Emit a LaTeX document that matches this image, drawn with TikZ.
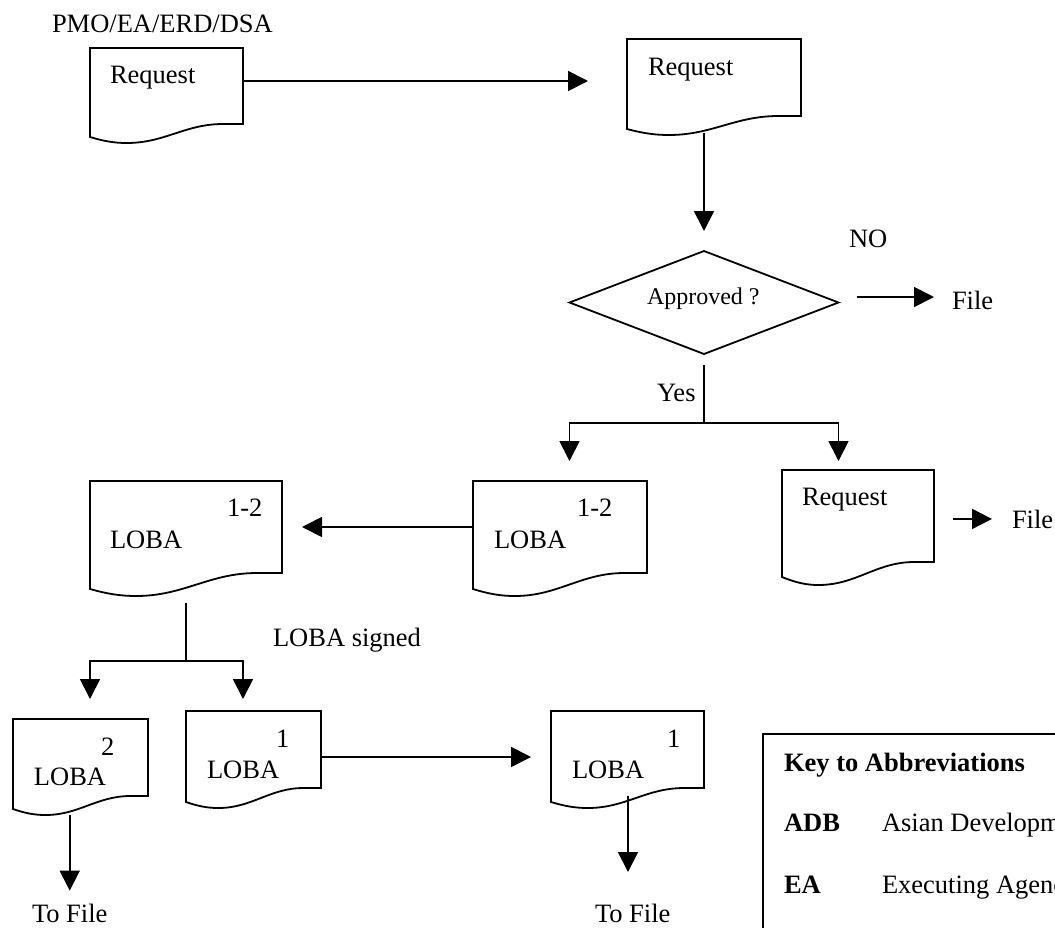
\documentclass[tikz,border=0pt]{standalone}
\usepackage{fontspec}
\setmainfont{Liberation Serif}
\usetikzlibrary{arrows.meta,shapes.geometric}

\newcommand\fs{\fontsize{26.5}{30}\selectfont}

\tikzset{
  every node/.style={inner sep=0pt, outer sep=0pt},
  ln/.style={line width=1.8pt},
  lbl/.style={anchor=base west, font=\fs},
  arr/.style={-{Triangle[length=20pt,width=20pt]}},
}

% Document symbol: #1 name, #2 left, #3 top, #4 right,
% #5 bottom of right edge, #6 bottom of left edge, #7 lowest point of the wave
\newcommand\docshape[7]{%
  \pgfmathsetmacro\dcw{#4-#2}%
  \pgfmathsetmacro\dch{#5-#3}%
  \pgfmathsetmacro\dcxc{(#2+#4)/2}%
  \pgfmathsetmacro\dcyc{(#3+#5)/2}%
  \pgfmathsetmacro\dcxm{#2+0.24*\dcw}%
  \pgfmathsetmacro\dcxe{#2+0.87*\dcw}%
  \pgfmathsetmacro\dcca{#2+0.09*\dcw}%
  \pgfmathsetmacro\dccb{\dcxm-0.08*\dcw}%
  \pgfmathsetmacro\dccc{\dcxm+0.25*\dcw}%
  \pgfmathsetmacro\dccd{\dcxe-0.25*\dcw}%
  \pgfmathsetmacro\dcya{#6+0.7*(#7-#6)}%
  \draw[ln] (#2,#6) .. controls (\dcca,\dcya) and (\dccb,#7) .. (\dcxm,#7)
            .. controls (\dccc,#7) and (\dccd,#5) .. (\dcxe,#5)
            -- (#4,#5) -- (#4,#3) -- (#2,#3) -- cycle;
  \node[minimum width=\dcw pt, minimum height=\dch pt] (#1) at (\dcxc,\dcyc) {};%
}

\begin{document}
\begin{tikzpicture}[x=1pt,y=-1pt]
\useasboundingbox (0,0) rectangle (1055,927);
\clip (0,0) rectangle (1055,927);

% documents
\docshape{d1}{90}{48}{243}{124}{137}{143}
\docshape{d2}{627}{39}{801}{116}{129}{135}
\docshape{l12}{90}{481}{282}{573}{589}{596}
\docshape{m12}{473}{481}{647}{573}{589}{596}
\docshape{req3}{782}{470}{934}{562}{577}{585}
\docshape{t2}{13}{719}{148}{796}{809}{815}
\docshape{t1}{186}{711}{321}{788}{802}{808}
\docshape{r1}{551}{711}{704}{788}{802}{808}

% decision
\node[draw, ln, diamond, minimum width=269pt, minimum height=103pt] (dec) at (704,302.5) {};

% labels
\node[lbl] (org) at (52,32) {PMO/EA/ERD/DSA};
\node[lbl] (d1t) at (110,83) {Request};
\node[lbl] (d2t) at (648,75) {Request};
\node[lbl] (no) at (849,247) {NO};
\node[lbl, font=\fontsize{24}{28}\selectfont] (dect) at (647,304) {Approved ?};
\node[lbl] (file1) at (952,309) {File};
\node[lbl] (yes) at (657,401) {Yes};
\node[lbl] (m12n) at (577,516) {1-2};
\node[lbl] (m12t) at (494,548) {LOBA};
\node[lbl] (l12n) at (227,516) {1-2};
\node[lbl] (l12t) at (110,548) {LOBA};
\node[lbl] (req3t) at (802,505) {Request};
\node[lbl] (file2) at (1012,528) {File};
\node[lbl] (signed) at (273,646) {LOBA signed};
\node[lbl] (t2n) at (101,755) {2};
\node[lbl] (t2t) at (34,785) {LOBA};
\node[lbl] (t1n) at (276,747) {1};
\node[lbl] (t1t) at (207,778) {LOBA};
\node[lbl] (r1n) at (667,747) {1};
\node[lbl] (r1t) at (572,778) {LOBA};
\node[lbl] (tofile1) at (32,922) {To File};
\node[lbl] (tofile2) at (595,922) {To File};

% key box (runs on past the right and bottom edges)
\node[draw, ln, anchor=north west, minimum width=400pt, minimum height=300pt] (key) at (763,734) {};
\node[lbl, font=\fs\bfseries] (keyh) at (784,771) {Key to Abbreviations};
\node[lbl, font=\fs\bfseries] (adb) at (784,831) {ADB};
\node[lbl] (adbt) at (882,831) {Asian Development Bank};
\node[lbl, font=\fs\bfseries] (ea) at (784,893) {EA};
\node[lbl] (eat) at (882,893) {Executing Agency};

% connectors
\draw[ln, arr, shorten >=39pt] ([yshift=5pt]d1.east) -- ([yshift=5pt]d1.east -| d2.west);
\draw[ln, arr, shorten <=17pt, shorten >=20pt] (d2.south -| dec.north) -- (dec.north);
\draw[ln, arr, shorten <=18pt, shorten >=18pt] ([yshift=5.5pt]dec.east) -- ([yshift=5.5pt]dec.east -| file1.west);

\coordinate (ysplit) at (704,423);
\draw[ln, shorten <=11pt] (dec.south) -- (ysplit);
\draw[ln, arr, shorten >=20pt] (ysplit) -| (dec.west |- m12.north);
\draw[ln, arr, shorten >=9pt] (ysplit) -| (dec.east |- req3.north);
\draw[ln, arr, shorten <=19pt, shorten >=20pt] (req3.east |- file2.west) -- (file2.west);

\draw[ln, arr, shorten >=20pt] (m12.west) -- (l12.east);

\coordinate (lsplit) at (186,661);
\coordinate (tipA) at (90,699);
\coordinate (tipB) at (243,699);
\draw[ln, shorten <=30pt] (l12.south) -- (lsplit);
\draw[ln, arr] (lsplit) -| (tipA);
\draw[ln, arr] (lsplit) -| (tipB);

\draw[ln, arr, shorten <=19pt, shorten >=13pt] (t2.south -| tofile1.north) -- (tofile1.north);
\draw[ln, arr, shorten >=20pt] ([yshift=-7.5pt]t1.east) -- ([yshift=-7.5pt]r1.west);
\coordinate (tipD) at (628,872);
\draw[ln, arr, shorten <=8pt] (r1.south -| tipD) -- (tipD);
\end{tikzpicture}
\end{document}
